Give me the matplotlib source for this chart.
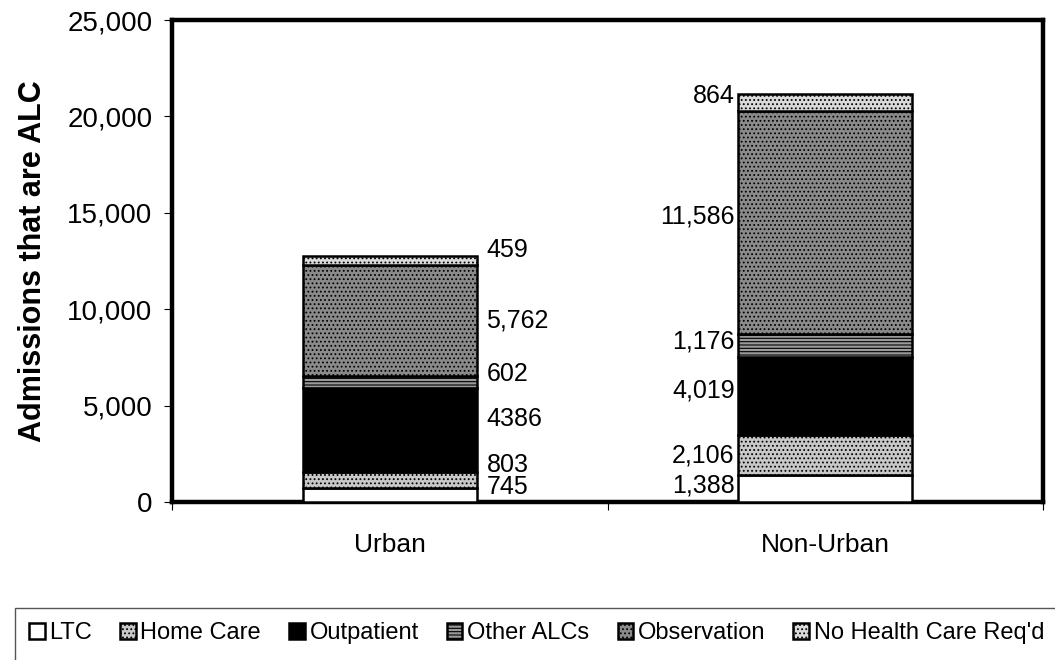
import matplotlib
matplotlib.use("Agg")
import matplotlib.pyplot as plt
from matplotlib.ticker import FuncFormatter, FixedLocator
from matplotlib.patches import Rectangle
import numpy as np

plt.rcParams['font.family'] = ['Liberation Sans', 'DejaVu Sans']
plt.rcParams['hatch.linewidth'] = 0.8

categories = ["Urban", "Non-Urban"]
series_names = ["LTC", "Home Care", "Outpatient", "Other ALCs", "Observation", "No Health Care Req'd"]
ltc = [745, 1388]
home_care = [803, 2106]
outpatient = [4386, 4019]
other_alcs = [602, 1176]
observation = [5762, 11586]
no_health_care = [459, 864]
label_texts = [
    ["745", "803", "4386", "602", "5,762", "459"],
    ["1,388", "2,106", "4,019", "1,176", "11,586", "864"],
]

series = [ltc, home_care, outpatient, other_alcs, observation, no_health_care]
styles = [
    dict(facecolor="white", hatch=None),
    dict(facecolor="#c8c8c8", hatch="...."),
    dict(facecolor="black", hatch=None),
    dict(facecolor="#9a9a9a", hatch="-----"),
    dict(facecolor="#8a8a8a", hatch="...."),
    dict(facecolor="#dadada", hatch="...."),
]

W, H = 1055, 660
fig = plt.figure(figsize=(W/100, H/100), dpi=100)
ax = fig.add_axes([172/W, 1-502/H, (1043-172)/W, (502-20)/H])

x = np.array([0.5, 1.5])
bottom = np.zeros(2)
handles = []
for vals, name, st in zip(series, series_names, styles):
    b = ax.bar(x, vals, width=0.4, bottom=bottom, facecolor=st["facecolor"],
               edgecolor="black", linewidth=1.8, hatch=st["hatch"], label=name, zorder=3)
    handles.append(b)
    bottom = bottom + np.array(vals)

# label positions (layout)
urban_label_y = [780, 1923, 4314, 6653, 9412, 13046]
nonurban_label_y = [832, 2392, 5772, 8320, 14820, 21060]
for t, yy in zip(label_texts[0], urban_label_y):
    ax.text(0.5 + 0.2 + 0.022, yy, t, ha="left", va="center", fontsize=18)
for t, yy in zip(label_texts[1], nonurban_label_y):
    ax.text(1.5 - 0.2 - 0.008, yy, t, ha="right", va="center", fontsize=18)

ax.set_xlim(0, 2)
ax.set_ylim(0, 25000)
ax.set_yticks([0, 5000, 10000, 15000, 20000, 25000])
ax.yaxis.set_major_formatter(FuncFormatter(lambda v, p: f"{int(v):,}"))
ax.set_xticks([0, 1, 2])
ax.set_xticklabels(["", "", ""])
ax.xaxis.set_minor_locator(FixedLocator(x))
ax.set_xticklabels(categories, minor=True)
ax.tick_params(axis="x", which="minor", length=0, pad=22, labelsize=19)
ax.tick_params(axis="x", which="major", length=6, direction="out", width=0.8)
ax.tick_params(axis="y", length=6, direction="out", width=0.8, labelsize=20, pad=8)
for s in ax.spines.values():
    s.set_linewidth(3.2)
ax.set_ylabel("Admissions that are ALC", fontsize=22, fontweight="bold", labelpad=14)

# legend frame extending past the figure edge, as in the reference
fig.patches.append(Rectangle((15/W, -0.05), 1.1, 1-608/H + 0.05, transform=fig.transFigure,
                             facecolor="none", edgecolor="#555555", linewidth=1.0))
leg = fig.legend(handles=handles, labels=series_names, loc="upper left",
                 bbox_to_anchor=(15/W, 1-608/H), ncol=6, frameon=False,
                 fontsize=17, handlelength=0.65, handleheight=0.65, handletextpad=0.2,
                 columnspacing=1.2, borderpad=0.6, borderaxespad=0)

fig.savefig("out.png", dpi=100)
